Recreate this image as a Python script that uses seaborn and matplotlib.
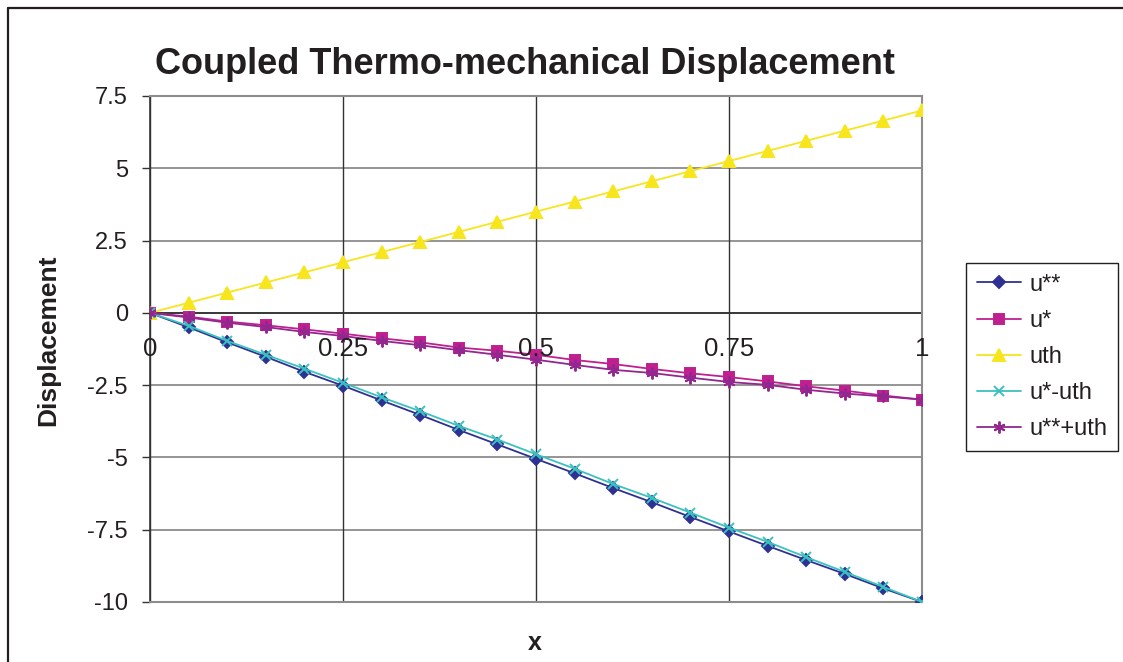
import matplotlib
matplotlib.use("Agg")
import matplotlib.pyplot as plt
from matplotlib.lines import Line2D
import seaborn as sns

sns.set_theme(style="white")
plt.rcParams["font.family"] = ["Liberation Sans", "DejaVu Sans"]

# Sample positions along the bar
x = [0.00, 0.05, 0.10, 0.15, 0.20, 0.25, 0.30, 0.35, 0.40, 0.45, 0.50,
     0.55, 0.60, 0.65, 0.70, 0.75, 0.80, 0.85, 0.90, 0.95, 1.00]

# Displacement components
u_ss = [0.00, -0.50, -1.02, -1.52, -2.04, -2.52, -3.03, -3.53, -4.05, -4.55, -5.05,
        -5.55, -6.06, -6.55, -7.06, -7.56, -8.06, -8.55, -9.03, -9.53, -10.00]
u_s = [0.00, -0.13, -0.30, -0.43, -0.57, -0.72, -0.88, -1.02, -1.20, -1.31, -1.45,
       -1.63, -1.77, -1.94, -2.09, -2.22, -2.37, -2.54, -2.69, -2.86, -3.00]
u_th = [0.00, 0.35, 0.70, 1.05, 1.40, 1.75, 2.10, 2.45, 2.80, 3.15, 3.50,
        3.85, 4.20, 4.55, 4.90, 5.25, 5.60, 5.95, 6.30, 6.65, 7.00]
u_s_minus_th = [0.00, -0.45, -0.97, -1.45, -1.93, -2.42, -2.92, -3.40, -3.91, -4.38, -4.89,
                -5.39, -5.92, -6.40, -6.91, -7.43, -7.92, -8.45, -8.96, -9.48, -10.00]
u_ss_plus_th = [0.00, -0.16, -0.34, -0.49, -0.66, -0.80, -0.97, -1.12, -1.29, -1.45, -1.62,
                -1.80, -1.97, -2.08, -2.24, -2.39, -2.49, -2.66, -2.79, -2.89, -3.00]

series_names = ["u**", "u*", "uth", "u*-uth", "u**+uth"]
series_values = [u_ss, u_s, u_th, u_s_minus_th, u_ss_plus_th]
series_colors = ["#2E3192", "#C0208F", "#F7E51E", "#3CC0C0", "#92278F"]
series_markers = ["D", "s", "^", "x", (6, 2, 0)]
marker_sizes = [6.0, 7.0, 8.5, 7.5, 8.5]

y_ticks = [-10, -7.5, -5, -2.5, 0, 2.5, 5, 7.5]
y_tick_labels = ["-10", "-7.5", "-5", "-2.5", "0", "2.5", "5", "7.5"]
x_ticks = [0, 0.25, 0.5, 0.75, 1]
x_tick_labels = ["0", "0.25", "0.5", "0.75", "1"]

W, H = 1123, 662
fig = plt.figure(figsize=(W / 100, H / 100), dpi=100)
fig.patch.set_facecolor("white")
ax = fig.add_axes([150 / W, 1 - 602 / H, (922 - 150) / W, (602 - 96) / H])

handles = []
for name, vals, col, mk, ms in zip(series_names, series_values, series_colors,
                                   series_markers, marker_sizes):
    sns.lineplot(x=x, y=vals, ax=ax, color=col, linewidth=1.3, marker=mk,
                 markersize=ms, markeredgecolor=col, markerfacecolor=col,
                 markeredgewidth=1.4, legend=False, zorder=3)
    handles.append(Line2D([], [], color=col, linewidth=1.3, marker=mk,
                          markersize=ms, markeredgecolor=col,
                          markerfacecolor=col, markeredgewidth=1.4, label=name))

ax.set_xlim(0, 1)
ax.set_ylim(-10, 7.5)

# Gridlines: grey horizontals, dark verticals
for yv in y_ticks:
    ax.axhline(yv, color="#8C8C8C", linewidth=1.3, zorder=1)
for xv in x_ticks:
    ax.axvline(xv, color="#333333", linewidth=1.0, zorder=1)
ax.axhline(0, color="#333333", linewidth=1.3, zorder=2)

for side in ["top", "right", "bottom"]:
    ax.spines[side].set_color("#8C8C8C")
    ax.spines[side].set_linewidth(1.5)
ax.spines["left"].set_color("#333333")
ax.spines["left"].set_linewidth(1.2)

ax.set_yticks(y_ticks)
ax.set_yticklabels(y_tick_labels, fontsize=17, color="#231F20")
ax.tick_params(axis="y", direction="out", length=6, width=1.0,
               color="#333333", pad=10, left=True)
ax.set_xticks(x_ticks)
ax.set_xticklabels([])
ax.tick_params(axis="x", length=0)

# x tick labels sit just under the zero axis
for xv, lab in zip(x_ticks, x_tick_labels):
    ax.annotate(lab, xy=(xv, 0), xytext=(0, -26), textcoords="offset points",
                ha="center", va="center", fontsize=18.5, color="#231F20",
                zorder=4)

fig.text(525 / W, 1 - 65 / H, "Coupled Thermo-mechanical Displacement",
         ha="center", va="center", fontsize=26, fontweight="bold",
         color="#231F20")
fig.text(48 / W, 1 - 340 / H, "Displacement", rotation=90, ha="center",
         va="center", fontsize=19, fontweight="bold", color="#231F20")
fig.text(535 / W, 1 - 643 / H, "x", ha="center", va="center", fontsize=18,
         fontweight="bold", color="#231F20")

leg = fig.legend(handles=handles, loc="upper left",
                 bbox_to_anchor=(966 / W, 1 - 263 / H), fontsize=17,
                 frameon=True, fancybox=False, shadow=False, framealpha=1,
                 edgecolor="#231F20", handlelength=1.9, labelspacing=0.6,
                 handletextpad=0.35, borderpad=0.45, borderaxespad=0)
leg.get_frame().set_linewidth(1.0)
for t in leg.get_texts():
    t.set_color("#231F20")

# Chart-area frame (top and left edges)
fig.add_artist(Line2D([8 / W, 8 / W], [0, 1 - 8 / H], transform=fig.transFigure,
                      color="#231F20", linewidth=1.6))
fig.add_artist(Line2D([8 / W, 1], [1 - 8 / H, 1 - 8 / H], transform=fig.transFigure,
                      color="#231F20", linewidth=1.6))

fig.savefig("out.png", dpi=100, facecolor="white")
